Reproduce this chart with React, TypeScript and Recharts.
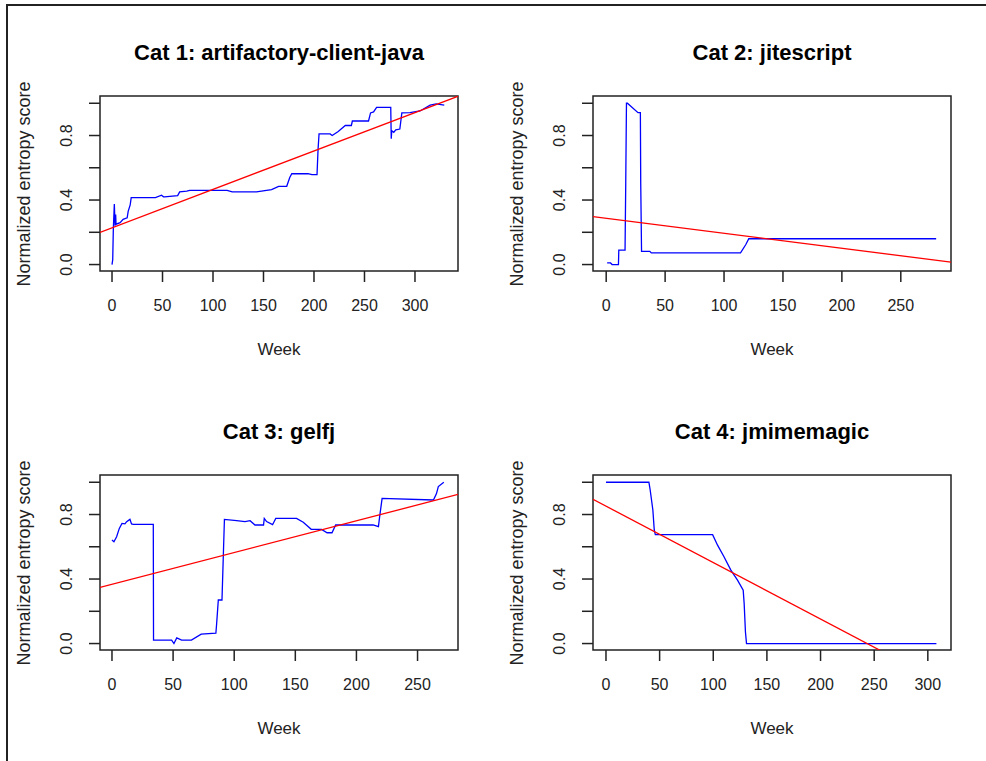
import { LineChart, Line, XAxis, YAxis, ReferenceArea } from "recharts"

// Cat 1: artifactory-client-java
const cat1Weeks = [0, 0.7, 1.3, 2.3, 3, 3.6, 4, 8, 11, 15, 16, 18, 19, 43, 49, 51, 52, 65, 67, 74, 77, 114, 119, 143, 158, 165, 173, 176, 178, 194, 198, 203, 204, 205, 216, 218, 224, 231, 237, 238, 254, 256, 259, 262, 276, 276.5, 277, 279, 281, 285, 287, 295, 305, 315, 321, 329]
const cat1Scores = [0, 0.03, 0.22, 0.375, 0.24, 0.31, 0.25, 0.26, 0.28, 0.29, 0.33, 0.37, 0.415, 0.415, 0.43, 0.42, 0.42, 0.427, 0.45, 0.455, 0.46, 0.46, 0.45, 0.45, 0.464, 0.485, 0.485, 0.54, 0.563, 0.563, 0.557, 0.557, 0.71, 0.81, 0.81, 0.8, 0.825, 0.862, 0.862, 0.89, 0.89, 0.94, 0.946, 0.975, 0.975, 0.78, 0.83, 0.82, 0.835, 0.84, 0.94, 0.942, 0.952, 0.988, 0.996, 0.988]
const cat1Fit = { intercept: 0.228, slope: 0.00238 }

// Cat 2: jitescript
const cat2Weeks = [0.8, 3.7, 5, 10.4, 10.7, 16, 16.6, 17.2, 18, 27, 29, 29.3, 30, 37, 38.3, 114, 118.5, 121, 280]
const cat2Scores = [0.01, 0.01, 0, 0, 0.09, 0.09, 0.515, 1.0, 1.0, 0.942, 0.942, 0.505, 0.082, 0.082, 0.072, 0.072, 0.124, 0.16, 0.16]
const cat2Fit = { intercept: 0.287, slope: -0.00093 }

// Cat 3: gelfj
const cat3Weeks = [0, 1.6, 3.8, 6, 8.2, 10.6, 12, 14.7, 16, 17.4, 33.8, 34, 48.8, 50.7, 53, 57, 65, 73, 85, 85.6, 87, 90, 91, 92, 102, 108.8, 113, 117, 124, 124.6, 126.5, 131.4, 134, 151, 156.5, 163, 171.5, 176, 180, 183, 213.7, 218, 219, 221, 263, 265.5, 267, 271.5]
const cat3Scores = [0.642, 0.631, 0.662, 0.714, 0.745, 0.742, 0.756, 0.77, 0.742, 0.739, 0.739, 0.021, 0.021, 0.0, 0.035, 0.021, 0.021, 0.058, 0.064, 0.12, 0.27, 0.27, 0.52, 0.77, 0.762, 0.756, 0.762, 0.735, 0.735, 0.776, 0.756, 0.737, 0.776, 0.776, 0.752, 0.708, 0.708, 0.687, 0.687, 0.735, 0.735, 0.725, 0.787, 0.9, 0.89, 0.93, 0.973, 1.0]
const cat3Fit = { intercept: 0.367, slope: 0.00197 }

// Cat 4: jmimemagic
const cat4Weeks = [0, 40, 41.2, 43.7, 45, 46, 99.4, 104, 110, 116.4, 122.6, 127.9, 128.8, 130, 131, 308]
const cat4Scores = [1.0, 1.0, 0.952, 0.828, 0.704, 0.675, 0.675, 0.61, 0.538, 0.455, 0.393, 0.331, 0.248, 0.072, 0, 0]
const cat4Fit = { intercept: 0.852, slope: -0.0035 }

const yTicks = [0, 0.2, 0.4, 0.6, 0.8, 1.0]
const yTickLabels = [0, 0.4, 0.8]
const ticks300 = [0, 50, 100, 150, 200, 250, 300]
const ticks250 = [0, 50, 100, 150, 200, 250]

const FONT = '"Liberation Sans", Arial, sans-serif'
const CHART_W = 493
const CHART_H = 380
const BOX = { left: 100, top: 96, width: 358, height: 175 }
const Y_DOMAIN: [number, number] = [-0.04, 1.045]
const INK = "#222"

function XTick(props: any) {
  const { x, payload } = props
  return (
    <text x={x} y={BOX.top + BOX.height + 34} textAnchor="middle" dominantBaseline="central" fontSize={16} fontFamily={FONT} fill={INK}>
      {payload.value}
    </text>
  )
}

function YTick(props: any) {
  const { y, payload } = props
  if (!yTickLabels.includes(payload.value)) return <g />
  const cx = 67
  return (
    <text x={cx} y={y} transform={`rotate(-90, ${cx}, ${y})`} textAnchor="middle" dominantBaseline="central" fontSize={16} fontFamily={FONT} fill={INK}>
      {payload.value.toFixed(1)}
    </text>
  )
}

interface PanelProps {
  title: string
  weeks: number[]
  scores: number[]
  fit: { intercept: number; slope: number }
  xDomain: [number, number]
  xTicks: number[]
  left: number
  top: number
}

function Panel({ title, weeks, scores, fit, xDomain, xTicks, left, top }: PanelProps) {
  const series = weeks.map((w, i) => ({ week: w, score: scores[i] }))
  const fitLine = xDomain.map((w) => ({ week: w, fit: fit.intercept + fit.slope * w }))
  const boxCenterX = BOX.left + BOX.width / 2

  return (
    <div style={{ position: "absolute", left, top, width: CHART_W, height: CHART_H }}>
      <LineChart
        width={CHART_W}
        height={CHART_H}
        margin={{ top: BOX.top, right: CHART_W - BOX.left - BOX.width, bottom: 0, left: 0 }}
      >
        <XAxis
          type="number"
          dataKey="week"
          domain={xDomain}
          ticks={xTicks}
          interval={0}
          allowDataOverflow
          height={CHART_H - BOX.top - BOX.height}
          axisLine={false}
          tickSize={11}
          tickLine={{ stroke: INK, strokeWidth: 1.5 }}
          tick={<XTick />}
        />
        <YAxis
          type="number"
          domain={Y_DOMAIN}
          ticks={yTicks}
          interval={0}
          allowDataOverflow
          width={BOX.left}
          axisLine={false}
          tickSize={11}
          tickLine={{ stroke: INK, strokeWidth: 1.5 }}
          tick={<YTick />}
        />
        <Line data={series} dataKey="score" type="linear" stroke="#0000ff" strokeWidth={1.3} dot={false} isAnimationActive={false} />
        <Line data={fitLine} dataKey="fit" type="linear" stroke="#ff0000" strokeWidth={1.3} dot={false} isAnimationActive={false} />
        <ReferenceArea
          x1={xDomain[0]}
          x2={xDomain[1]}
          y1={Y_DOMAIN[0]}
          y2={Y_DOMAIN[1]}
          fill="none"
          stroke={INK}
          strokeWidth={1.5}
          ifOverflow="visible"
        />
      </LineChart>
      <div style={{ position: "absolute", left: boxCenterX - 200, width: 400, top: 53 - 13, height: 26, lineHeight: "26px", textAlign: "center", fontFamily: FONT, fontWeight: "bold", fontSize: 22, color: "#000" }}>
        {title}
      </div>
      <div style={{ position: "absolute", left: boxCenterX - 100, width: 200, top: 350 - 10, height: 20, lineHeight: "20px", textAlign: "center", fontFamily: FONT, fontSize: 17, color: INK }}>
        Week
      </div>
      <div
        style={{
          position: "absolute",
          left: 24 - 150,
          width: 300,
          top: BOX.top + BOX.height / 2 - 10,
          height: 20,
          lineHeight: "20px",
          textAlign: "center",
          fontFamily: FONT,
          fontSize: 18,
          color: INK,
          transform: "rotate(-90deg)",
        }}
      >
        Normalized entropy score
      </div>
    </div>
  )
}

export default function App() {
  return (
    <div style={{ position: "relative", width: 986, height: 761, background: "#fff", overflow: "hidden" }}>
      <style>{`body { margin: 0; }`}</style>
      <div style={{ position: "absolute", left: 6, top: 4, right: 0, bottom: -10, borderTop: "2px solid #222", borderLeft: "2px solid #222" }} />
      <Panel title="Cat 1: artifactory-client-java" weeks={cat1Weeks} scores={cat1Scores} fit={cat1Fit} xDomain={[-11.9, 342.6]} xTicks={ticks300} left={0} top={0} />
      <Panel title="Cat 2: jitescript" weeks={cat2Weeks} scores={cat2Scores} fit={cat2Fit} xDomain={[-11.2, 292.6]} xTicks={ticks250} left={493} top={0} />
      <Panel title="Cat 3: gelfj" weeks={cat3Weeks} scores={cat3Scores} fit={cat3Fit} xDomain={[-9.8, 283.1]} xTicks={ticks250} left={0} top={379} />
      <Panel title="Cat 4: jmimemagic" weeks={cat4Weeks} scores={cat4Scores} fit={cat4Fit} xDomain={[-12.1, 321.6]} xTicks={ticks300} left={493} top={379} />
    </div>
  )
}
